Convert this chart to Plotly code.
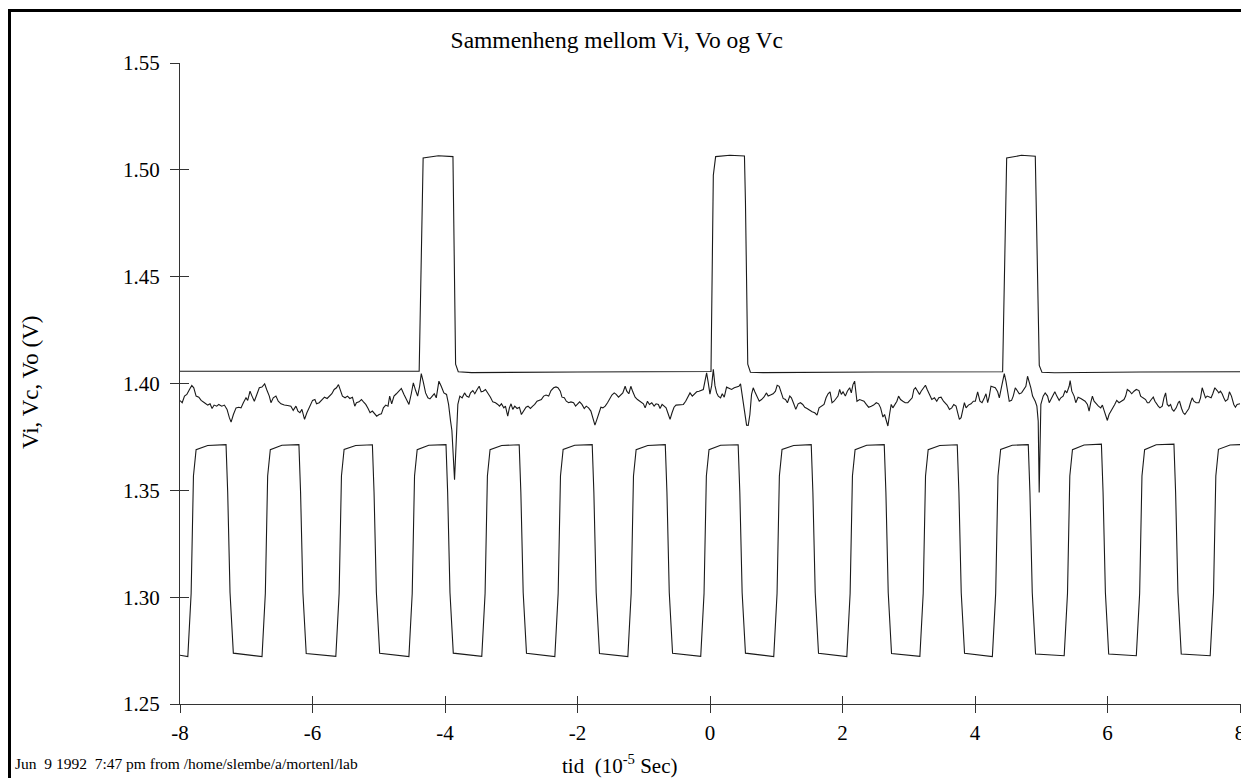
import plotly.graph_objects as go

# ---------------- data ----------------
# Vo : output pulses
vo_t = [-8.0, -6.5, -5.0, -4.39, -4.33, -4.10, -3.88, -3.84, -3.80, -3.60, -2.0, 0.0, 0.015,
        0.05, 0.085, 0.30, 0.52, 0.535, 0.57, 0.61, 0.80, 2.5, 4.417, 4.478, 4.70, 4.91,
        4.97, 5.01, 5.20, 6.5, 8.0]
vo_v = [1.4057, 1.4058, 1.4056, 1.4057, 1.5055, 1.5066, 1.5062, 1.4090, 1.4055, 1.4051,
        1.4054, 1.4056, 1.4056, 1.4975, 1.5062, 1.5068, 1.5065, 1.4850, 1.4090, 1.4053,
        1.4051, 1.4054, 1.4055, 1.5055, 1.5068, 1.5064, 1.4085, 1.4053, 1.4050, 1.4054,
        1.4055]

# Vc : noisy control voltage
vc_t = [-8.0, -7.967, -7.932, -7.897, -7.857, -7.822, -7.792, -7.757, -7.716, -7.681, -7.631,
        -7.581, -7.546, -7.516, -7.485, -7.445, -7.415, -7.370, -7.330, -7.290, -7.255,
        -7.229, -7.194, -7.154, -7.114, -7.079, -7.044, -7.004, -6.978, -6.943, -6.913,
        -6.878, -6.843, -6.803, -6.763, -6.722, -6.692, -6.652, -6.627, -6.592, -6.552,
        -6.517, -6.476, -6.426, -6.376, -6.326, -6.291, -6.250, -6.220, -6.190, -6.160,
        -6.120, -6.085, -6.050, -5.999, -5.964, -5.939, -5.899, -5.859, -5.819, -5.779,
        -5.738, -5.708, -5.673, -5.638, -5.608, -5.573, -5.548, -5.508, -5.472, -5.437,
        -5.397, -5.362, -5.337, -5.297, -5.261, -5.231, -5.196, -5.161, -5.131, -5.096,
        -5.061, -5.031, -4.995, -4.960, -4.930, -4.895, -4.860, -4.835, -4.805, -4.770,
        -4.734, -4.694, -4.659, -4.619, -4.579, -4.544, -4.509, -4.478, -4.443, -4.413,
        -4.383, -4.358, -4.328, -4.293, -4.258, -4.227, -4.192, -4.162, -4.132, -4.092,
        -4.057, -4.017, -3.977, -3.946, -3.916, -3.896, -3.856, -3.826, -3.806, -3.776,
        -3.741, -3.705, -3.675, -3.640, -3.615, -3.580, -3.550, -3.515, -3.484, -3.454,
        -3.424, -3.389, -3.354, -3.314, -3.279, -3.238, -3.203, -3.178, -3.148, -3.113,
        -3.088, -3.053, -3.028, -3.003, -2.977, -2.947, -2.912, -2.877, -2.847, -2.812,
        -2.777, -2.747, -2.711, -2.676, -2.646, -2.611, -2.576, -2.546, -2.511, -2.475,
        -2.435, -2.400, -2.360, -2.325, -2.295, -2.260, -2.234, -2.199, -2.169, -2.134,
        -2.099, -2.059, -2.029, -1.999, -1.968, -1.933, -1.898, -1.868, -1.833, -1.798,
        -1.768, -1.737, -1.707, -1.677, -1.647, -1.617, -1.582, -1.547, -1.517, -1.481,
        -1.446, -1.416, -1.381, -1.346, -1.316, -1.281, -1.256, -1.225, -1.195, -1.165,
        -1.130, -1.095, -1.065, -1.035, -1.005, -0.979, -0.944, -0.914, -0.879, -0.844,
        -0.814, -0.779, -0.754, -0.723, -0.693, -0.663, -0.628, -0.603, -0.573, -0.543,
        -0.513, -0.477, -0.442, -0.402, -0.367, -0.337, -0.302, -0.267, -0.236, -0.201,
        -0.166, -0.136, -0.101, -0.076, -0.051, -0.026, -0.001, 0.025, 0.050, 0.075,
        0.100, 0.125, 0.160, 0.185, 0.215, 0.250, 0.286, 0.326, 0.366, 0.401, 0.436,
        0.461, 0.476, 0.502, 0.527, 0.552, 0.577, 0.602, 0.627, 0.652, 0.677, 0.712,
        0.743, 0.778, 0.813, 0.853, 0.878, 0.913, 0.953, 0.988, 1.014, 1.044, 1.069,
        1.104, 1.139, 1.169, 1.204, 1.229, 1.264, 1.295, 1.330, 1.365, 1.400, 1.430,
        1.465, 1.506, 1.541, 1.581, 1.616, 1.646, 1.681, 1.721, 1.752, 1.782, 1.812,
        1.842, 1.872, 1.907, 1.932, 1.957, 1.982, 2.008, 2.043, 2.073, 2.108, 2.133,
        2.158, 2.183, 2.198, 2.218, 2.258, 2.294, 2.324, 2.359, 2.394, 2.434, 2.469,
        2.510, 2.545, 2.575, 2.610, 2.635, 2.660, 2.685, 2.710, 2.735, 2.760, 2.786,
        2.821, 2.846, 2.876, 2.911, 2.946, 2.986, 3.021, 3.052, 3.077, 3.102, 3.127,
        3.162, 3.187, 3.222, 3.252, 3.278, 3.313, 3.348, 3.388, 3.423, 3.453, 3.488,
        3.524, 3.549, 3.579, 3.614, 3.649, 3.679, 3.714, 3.739, 3.764, 3.790, 3.815,
        3.840, 3.865, 3.900, 3.940, 3.975, 4.005, 4.040, 4.075, 4.106, 4.141, 4.166,
        4.191, 4.216, 4.241, 4.276, 4.306, 4.342, 4.367, 4.402, 4.442, 4.467, 4.492,
        4.517, 4.552, 4.577, 4.608, 4.643, 4.668, 4.703, 4.733, 4.768, 4.793, 4.818,
        4.843, 4.869, 4.909, 4.934, 4.954, 4.969, 4.994, 5.029, 5.059, 5.095, 5.120,
        5.145, 5.170, 5.205, 5.235, 5.270, 5.295, 5.330, 5.361, 5.386, 5.421, 5.436,
        5.461, 5.496, 5.521, 5.556, 5.597, 5.632, 5.662, 5.697, 5.722, 5.747, 5.772,
        5.797, 5.832, 5.863, 5.898, 5.923, 5.948, 5.973, 5.998, 6.023, 6.048, 6.073,
        6.109, 6.139, 6.174, 6.209, 6.249, 6.274, 6.299, 6.334, 6.365, 6.400, 6.435,
        6.475, 6.500, 6.535, 6.575, 6.601, 6.626, 6.661, 6.691, 6.716, 6.741, 6.766,
        6.791, 6.826, 6.852, 6.877, 6.902, 6.927, 6.952, 6.977, 7.002, 7.037, 7.067,
        7.087, 7.118, 7.143, 7.168, 7.203, 7.228, 7.253, 7.278, 7.303, 7.338, 7.379,
        7.404, 7.429, 7.454, 7.479, 7.504, 7.529, 7.564, 7.589, 7.620, 7.655, 7.680,
        7.705, 7.730, 7.755, 7.780, 7.815, 7.840, 7.871, 7.906, 7.931, 7.956, 8.0]
vc_v = [1.3920, 1.3910, 1.3941, 1.3949, 1.3972, 1.3991, 1.3980, 1.3941, 1.3936, 1.3921, 1.3910,
        1.3899, 1.3905, 1.3883, 1.3899, 1.3894, 1.3902, 1.3894, 1.3899, 1.3879, 1.3840,
        1.3819, 1.3855, 1.3886, 1.3889, 1.3886, 1.3910, 1.3933, 1.3921, 1.3964, 1.3941,
        1.3917, 1.3946, 1.3980, 1.3983, 1.3998, 1.3972, 1.3941, 1.3910, 1.3933, 1.3941,
        1.3917, 1.3905, 1.3899, 1.3897, 1.3894, 1.3874, 1.3894, 1.3871, 1.3863, 1.3879,
        1.3832, 1.3863, 1.3886, 1.3921, 1.3925, 1.3905, 1.3910, 1.3925, 1.3936, 1.3930,
        1.3941, 1.3952, 1.3972, 1.3980, 1.3995, 1.3964, 1.3941, 1.3933, 1.3941, 1.3930,
        1.3936, 1.3894, 1.3910, 1.3914, 1.3925, 1.3914, 1.3902, 1.3883, 1.3863, 1.3871,
        1.3858, 1.3847, 1.3855, 1.3858, 1.3886, 1.3899, 1.3894, 1.3941, 1.3905, 1.3941,
        1.3952, 1.3967, 1.3977, 1.3949, 1.3925, 1.3902, 1.3952, 1.4003, 1.3967, 1.3941,
        1.3987, 1.4046, 1.4008, 1.3956, 1.3933, 1.3928, 1.3941, 1.3952, 1.3933, 1.4011,
        1.3987, 1.3956, 1.3949, 1.3902, 1.3824, 1.3780, 1.3550, 1.3820, 1.3902, 1.3941,
        1.3933, 1.3956, 1.3941, 1.3936, 1.3956, 1.3967, 1.3952, 1.3972, 1.3987, 1.3961,
        1.3964, 1.3972, 1.3956, 1.3936, 1.3914, 1.3910, 1.3902, 1.3894, 1.3905, 1.3886,
        1.3894, 1.3847, 1.3886, 1.3905, 1.3879, 1.3894, 1.3883, 1.3889, 1.3855, 1.3871,
        1.3889, 1.3894, 1.3883, 1.3894, 1.3902, 1.3917, 1.3921, 1.3925, 1.3941, 1.3946,
        1.3941, 1.3967, 1.3980, 1.3984, 1.3980, 1.3964, 1.3936, 1.3933, 1.3917, 1.3910,
        1.3914, 1.3910, 1.3894, 1.3902, 1.3914, 1.3902, 1.3883, 1.3894, 1.3886, 1.3871,
        1.3843, 1.3805, 1.3832, 1.3863, 1.3889, 1.3886, 1.3894, 1.3910, 1.3925, 1.3946,
        1.3956, 1.3949, 1.3936, 1.3949, 1.3956, 1.3987, 1.3964, 1.3952, 1.3987, 1.3961,
        1.3936, 1.3925, 1.3917, 1.3910, 1.3905, 1.3886, 1.3917, 1.3902, 1.3910, 1.3894,
        1.3905, 1.3902, 1.3883, 1.3902, 1.3894, 1.3886, 1.3855, 1.3832, 1.3863, 1.3889,
        1.3899, 1.3899, 1.3899, 1.3902, 1.3917, 1.3933, 1.3956, 1.3941, 1.3952, 1.3961,
        1.3964, 1.3967, 1.3972, 1.4011, 1.4050, 1.4003, 1.3950, 1.3990, 1.4066, 1.3990,
        1.3956, 1.3941, 1.3933, 1.3952, 1.3936, 1.3983, 1.3977, 1.3972, 1.3980, 1.3983, 1.3987,
        1.3998, 1.3964, 1.3917, 1.3847, 1.3805, 1.3804, 1.3855, 1.3949, 1.3980, 1.3961, 1.3936,
        1.3917, 1.3925, 1.3936, 1.3956, 1.3941, 1.3946, 1.3952, 1.3964, 1.3992, 1.3987, 1.3967,
        1.3930, 1.3925, 1.3910, 1.3941, 1.3933, 1.3905, 1.3879, 1.3905, 1.3910, 1.3902, 1.3889,
        1.3883, 1.3874, 1.3868, 1.3863, 1.3852, 1.3886, 1.3894, 1.3902, 1.3933, 1.3952, 1.3961,
        1.3910, 1.3917, 1.3930, 1.3941, 1.3972, 1.3949, 1.3961, 1.3941, 1.3964, 1.3980, 1.3956,
        1.3995, 1.4011, 1.3964, 1.3917, 1.3925, 1.3921, 1.3917, 1.3902, 1.3889, 1.3894, 1.3899,
        1.3910, 1.3905, 1.3886, 1.3843, 1.3855, 1.3832, 1.3801, 1.3855, 1.3902, 1.3886, 1.3902,
        1.3917, 1.3941, 1.3925, 1.3917, 1.3910, 1.3910, 1.3925, 1.3933, 1.3972, 1.3980, 1.3967,
        1.3949, 1.3964, 1.3980, 1.3992, 1.3972, 1.3949, 1.3925, 1.3933, 1.3917, 1.3933, 1.3936,
        1.3917, 1.3910, 1.3899, 1.3879, 1.3886, 1.3902, 1.3894, 1.3863, 1.3832, 1.3840, 1.3871,
        1.3910, 1.3886, 1.3899, 1.3905, 1.3917, 1.3917, 1.3961, 1.3917, 1.3910, 1.3933, 1.3952,
        1.3910, 1.3941, 1.3987, 1.3983, 1.3980, 1.3961, 1.3933, 1.3987, 1.4046, 1.4011, 1.3964,
        1.3917, 1.3921, 1.3941, 1.3980, 1.3964, 1.3952, 1.3956, 1.3972, 1.3987, 1.4034, 1.4011,
        1.3980, 1.3941, 1.3917, 1.3894, 1.3824, 1.3490, 1.3902, 1.3941, 1.3956, 1.3941, 1.3910,
        1.3925, 1.3941, 1.3961, 1.3941, 1.3921, 1.3933, 1.3941, 1.3967, 1.3956, 1.3987, 1.4014,
        1.3964, 1.3941, 1.3910, 1.3936, 1.3930, 1.3921, 1.3917, 1.3902, 1.3871, 1.3910, 1.3941,
        1.3917, 1.3902, 1.3894, 1.3886, 1.3899, 1.3874, 1.3855, 1.3827, 1.3855, 1.3871, 1.3879,
        1.3902, 1.3921, 1.3910, 1.3917, 1.3925, 1.3941, 1.3972, 1.3964, 1.3952, 1.3964, 1.3972,
        1.3967, 1.3941, 1.3933, 1.3925, 1.3910, 1.3910, 1.3925, 1.3936, 1.3917, 1.3902, 1.3894,
        1.3886, 1.3894, 1.3933, 1.3956, 1.3902, 1.3894, 1.3902, 1.3879, 1.3871, 1.3886, 1.3910,
        1.3917, 1.3883, 1.3863, 1.3855, 1.3871, 1.3883, 1.3910, 1.3933, 1.3917, 1.3910, 1.3910,
        1.3933, 1.3980, 1.3952, 1.3933, 1.3941, 1.3936, 1.3933, 1.3952, 1.3980, 1.3967, 1.3956,
        1.3964, 1.3952, 1.3933, 1.3917, 1.3925, 1.3961, 1.3941, 1.3902, 1.3889, 1.3902, 1.3905]

# Vi : square-wave input
vi_t = [-8.0,
        -7.882, -7.832, -7.797, -7.757, -7.582, -7.305, -7.280, -7.245, -7.195,
        -6.762, -6.712, -6.677, -6.637, -6.462, -6.205, -6.180, -6.145, -6.095,
        -5.648, -5.598, -5.563, -5.523, -5.348, -5.096, -5.071, -5.036, -4.986,
        -4.545, -4.495, -4.460, -4.420, -4.245, -3.985, -3.960, -3.925, -3.875,
        -3.445, -3.395, -3.360, -3.320, -3.145, -2.880, -2.855, -2.820, -2.770,
        -2.342, -2.292, -2.257, -2.217, -2.042, -1.778, -1.753, -1.718, -1.668,
        -1.240, -1.190, -1.155, -1.115, -0.940, -0.675, -0.650, -0.615, -0.565,
        -0.140, -0.090, -0.055, -0.015, 0.160, 0.425, 0.450, 0.485, 0.535,
        0.962, 1.012, 1.047, 1.087, 1.262, 1.528, 1.553, 1.588, 1.638,
        2.065, 2.115, 2.150, 2.190, 2.365, 2.630, 2.655, 2.690, 2.740,
        3.168, 3.218, 3.253, 3.293, 3.468, 3.732, 3.757, 3.792, 3.842,
        4.262, 4.312, 4.347, 4.387, 4.562, 4.804, 4.829, 4.864, 4.914,
        5.346, 5.396, 5.431, 5.471, 5.646, 5.908, 5.933, 5.968, 6.018,
        6.435, 6.485, 6.520, 6.560, 6.735, 7.003, 7.028, 7.063, 7.113,
        7.550, 7.600, 7.635, 7.675, 7.850, 8.0]
vi_v = [1.2728,
        1.2722, 1.3017, 1.3567, 1.3690, 1.3710, 1.3714, 1.3490, 1.3022, 1.2738,
        1.2722, 1.3017, 1.3567, 1.3690, 1.3711, 1.3714, 1.3490, 1.3022, 1.2736,
        1.2723, 1.3017, 1.3567, 1.3691, 1.3710, 1.3713, 1.3490, 1.3022, 1.2737,
        1.2722, 1.3017, 1.3567, 1.3690, 1.3711, 1.3714, 1.3490, 1.3022, 1.2738,
        1.2723, 1.3017, 1.3567, 1.3690, 1.3710, 1.3713, 1.3490, 1.3022, 1.2737,
        1.2722, 1.3017, 1.3567, 1.3691, 1.3711, 1.3714, 1.3490, 1.3022, 1.2736,
        1.2722, 1.3017, 1.3567, 1.3690, 1.3710, 1.3714, 1.3490, 1.3022, 1.2737,
        1.2723, 1.3017, 1.3567, 1.3690, 1.3711, 1.3713, 1.3490, 1.3022, 1.2738,
        1.2722, 1.3017, 1.3567, 1.3691, 1.3710, 1.3714, 1.3490, 1.3022, 1.2737,
        1.2722, 1.3017, 1.3567, 1.3690, 1.3711, 1.3714, 1.3490, 1.3022, 1.2736,
        1.2723, 1.3017, 1.3567, 1.3690, 1.3710, 1.3713, 1.3490, 1.3022, 1.2737,
        1.2722, 1.3017, 1.3567, 1.3691, 1.3711, 1.3714, 1.3490, 1.3022, 1.2734,
        1.2726, 1.3017, 1.3567, 1.3690, 1.3712, 1.3716, 1.3490, 1.3022, 1.2734,
        1.2726, 1.3017, 1.3567, 1.3690, 1.3713, 1.3716, 1.3490, 1.3022, 1.2734,
        1.2726, 1.3017, 1.3567, 1.3692, 1.3712, 1.3714]

x_ticks = [-8, -6, -4, -2, 0, 2, 4, 6, 8]
y_ticks = [1.25, 1.30, 1.35, 1.40, 1.45, 1.50, 1.55]
y_ticktext = ["1.25", "1.30", "1.35", "1.40", "1.45", "1.50", "1.55"]

title_text = "Sammenheng mellom Vi, Vo og Vc"
y_title = "Vi, Vc, Vo (V)"
x_title = "tid\u00a0\u00a0(10<sup>-5</sup> Sec)"
footer = "Jun\u00a0\u00a09 1992\u00a0\u00a07:47 pm from /home/slembe/a/mortenl/lab"

# ---------------- figure ----------------
SERIF = "Liberation Serif, Times New Roman, serif"
LINE = "#1a1a1a"
AX = "#333333"

fig = go.Figure()
for t, v, name in [(vo_t, vo_v, "Vo"), (vc_t, vc_v, "Vc"), (vi_t, vi_v, "Vi")]:
    fig.add_trace(go.Scatter(x=t, y=v, mode="lines", name=name,
                             line=dict(color=LINE, width=1.1), showlegend=False))

# helper trace so the overlay axes (inner half of crossing ticks) are drawn
fig.add_trace(go.Scatter(x=[-8], y=[1.25], xaxis="x2", yaxis="y2", mode="markers",
                         marker=dict(opacity=0), showlegend=False, hoverinfo="skip"))

W, H = 1241, 778
L, R, T, B = 180, 0, 63, 74
pw, ph = W - L - R, H - T - B
XR = [-8, 8.015]

def px_x(p):
    return (p - L) / pw

def px_y(p):
    return (H - B - p) / ph

fig.update_layout(
    width=W, height=H,
    margin=dict(l=L, r=R, t=T, b=B, autoexpand=False),
    paper_bgcolor="white", plot_bgcolor="white",
    font=dict(family=SERIF, color="black"),
    title=dict(text=title_text, x=0.497, xref="container", xanchor="center",
               y=1 - 40 / H, yref="container", yanchor="middle",
               font=dict(family=SERIF, size=23.5, color="black")),
    xaxis=dict(range=XR, tickvals=x_ticks, ticktext=[str(v) for v in x_ticks],
               ticks="outside", ticklen=8, tickwidth=1, tickcolor=AX,
               showline=True, linecolor=AX, linewidth=1, showgrid=False, zeroline=False,
               tickfont=dict(family=SERIF, size=21, color="black"), ticklabelstandoff=2,
               ticklabeloverflow="allow", fixedrange=True),
    yaxis=dict(range=[1.25, 1.55], tickvals=y_ticks, ticktext=y_ticktext,
               ticks="outside", ticklen=9, tickwidth=1, tickcolor=AX,
               showline=True, linecolor=AX, linewidth=1, showgrid=False, zeroline=False,
               tickfont=dict(family=SERIF, size=21, color="black"), ticklabelstandoff=6,
               ticklabeloverflow="allow", fixedrange=True),
    xaxis2=dict(range=XR, tickvals=x_ticks, overlaying="x", anchor="y2", side="bottom",
                ticks="inside", ticklen=8, tickwidth=1, tickcolor=AX,
                showticklabels=False, showline=False, showgrid=False, zeroline=False,
                fixedrange=True),
    yaxis2=dict(range=[1.25, 1.55], tickvals=y_ticks, overlaying="y", anchor="x2", side="left",
                ticks="inside", ticklen=9, tickwidth=1, tickcolor=AX,
                showticklabels=False, showline=False, showgrid=False, zeroline=False,
                fixedrange=True),
)

fig.add_annotation(text=y_title, textangle=-90, x=px_x(30), y=px_y(383),
                   xref="paper", yref="paper", showarrow=False,
                   xanchor="center", yanchor="middle",
                   font=dict(family=SERIF, size=23, color="black"))
fig.add_annotation(text=x_title, x=px_x(620), y=px_y(764),
                   xref="paper", yref="paper", showarrow=False,
                   xanchor="center", yanchor="middle",
                   font=dict(family=SERIF, size=21, color="black"))
fig.add_annotation(text=footer, x=px_x(13), y=px_y(763),
                   xref="paper", yref="paper", showarrow=False,
                   xanchor="left", yanchor="middle",
                   font=dict(family=SERIF, size=15.5, color="black"))

# page frame (cut off at right and bottom)
fig.add_shape(type="rect", xref="paper", yref="paper",
              x0=px_x(9.5), x1=px_x(1260), y0=px_y(800), y1=px_y(10.5),
              line=dict(color="black", width=3), fillcolor="rgba(0,0,0,0)")

fig.write_html("out.html", config={"displayModeBar": False},
               post_script="document.body.style.margin='0';"
                           "document.body.style.overflow='hidden';")
